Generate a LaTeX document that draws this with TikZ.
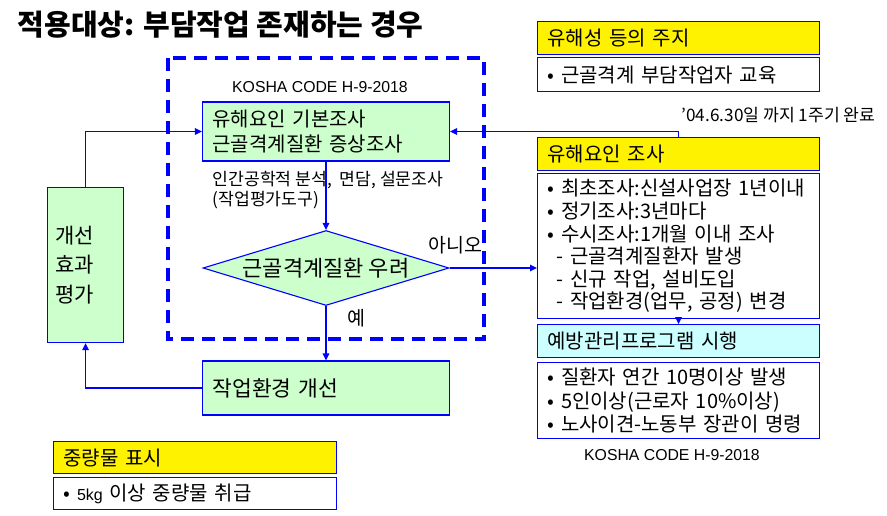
\documentclass[tikz,border=0pt]{standalone}
\usepackage{fontspec}
\setmainfont{Noto Sans CJK KR}
\newfontfamily\latfont{Liberation Sans}
\usetikzlibrary{arrows.meta,positioning,shapes.geometric}
\definecolor{lgreen}{HTML}{CCFFCC}
\definecolor{lcyan}{HTML}{CCFFFF}
\definecolor{lblue}{HTML}{0000FF}

\begin{document}
\begin{tikzpicture}[
  x=1pt, y=-1pt,
  box/.style={draw=lblue, line width=1.1pt, fill=lgreen, align=left,
              font=\fontsize{20}{25.5}\selectfont},
  hdr/.style={draw=lblue, line width=1.1pt, fill=yellow, anchor=north west,
              minimum height=33pt, text width=262pt, inner xsep=10pt, align=left,
              font=\fontsize{20}{22}\selectfont},
  lst/.style={draw=lblue, line width=1.1pt, fill=white, anchor=north west,
              text width=262pt, inner xsep=10pt, inner ysep=0pt, align=left,
              font=\fontsize{20}{22.6}\selectfont},
  lbl/.style={inner sep=0pt, align=left},
  >={Triangle[length=7pt,width=6.5pt]}, line width=1.3pt
]
  \useasboundingbox (0,0) rectangle (887,515);

  \node[lbl, anchor=west, font=\bfseries\fontsize{29}{32}\selectfont] (title) at (17,25)
      {적용대상: 부담작업 존재하는 경우};

  \draw[lblue, line width=3.2pt, dash pattern=on 13pt off 8pt] (168,58) rectangle (484,339);
  \node[lbl, font=\latfont\fontsize{15.8}{18}\selectfont] (kosha1) at (320,87) {KOSHA CODE H-9-2018};

  \node[box, minimum width=247pt, minimum height=59pt, text width=227pt, inner xsep=10pt]
      (basic) at (326,131.5) {유해요인 기본조사\\근골격계질환 증상조사};
  \node[lbl, anchor=west, font=\fontsize{17.2}{20}\selectfont] (methods) at (212,190)
      {인간공학적 분석,\ \ 면담, 설문조사\\(작업평가도구)};
  \node[box, diamond, aspect=3.28, inner sep=-6pt, minimum width=246pt, minimum height=75pt,
        font=\fontsize{22}{24}\selectfont] (risk) at (326,268) {근골격계질환 우려};
  \node[lbl, anchor=west, font=\fontsize{19.5}{22}\selectfont] (nolbl) at (428,245) {아니오};
  \node[lbl, anchor=west, font=\fontsize{19.5}{22}\selectfont] (yeslbl) at (347,318) {예};

  \node[box, minimum width=247pt, minimum height=54pt, text width=227pt, inner xsep=10pt,
        font=\fontsize{21.5}{24}\selectfont] (improve) at (326,388) {작업환경 개선};
  \node[box, anchor=north west, minimum width=76pt, minimum height=155pt, text width=60pt,
        inner xsep=8pt, font=\fontsize{21}{29.5}\selectfont] (evalbox) at (47,187)
      {개선\\효과\\평가};

  \node[hdr] (notice) at (537,21) {유해성 등의 주지};
  \node[lst, minimum height=34pt] (noticelist) at (537,57) {• 근골격계 부담작업자 교육};
  \node[lbl, anchor=west, font=\fontsize{17.2}{20}\selectfont] (datenote) at (681,115)
      {’04.6.30일 까지 1주기 완료};

  \node[hdr] (survey) at (537,137) {유해요인 조사};
  \node[lst, minimum height=145pt] (surveylist) at (537,173)
      {• 최초조사:신설사업장 1년이내\\
       • 정기조사:3년마다\\
       • 수시조사:1개월 이내 조사\\
       \hspace*{9pt}- 근골격계질환자 발생\\
       \hspace*{9pt}- 신규 작업, 설비도입\\
       \hspace*{9pt}- 작업환경(업무, 공정) 변경};

  \node[hdr, fill=lcyan] (prog) at (537,324) {예방관리프로그램 시행};
  \node[lst, minimum height=76pt, font=\fontsize{20}{23.5}\selectfont] (proglist) at (537,362)
      {• 질환자 연간 10명이상 발생\\
       • 5인이상(근로자 10\%이상)\\
       • 노사이견-노동부 장관이 명령};
  \node[lbl, font=\latfont\fontsize{15.8}{18}\selectfont] (kosha2) at (672,455) {KOSHA CODE H-9-2018};

  \node[hdr, minimum height=32pt, text width=263pt] (heavy) at (53,441) {중량물 표시};
  \node[lst, minimum height=32pt, text width=263pt] (heavylist) at (53,477)
      {• {\latfont\fontsize{16}{18}\selectfont 5kg} 이상 중량물 취급};

  \draw[->, lblue] (evalbox.north) |- (basic.west);
  \draw[->, lblue] (survey.north) |- (basic.east);
  \draw[->, lblue] (basic.south) -- (risk.north);
  \draw[->, lblue] (risk.east) -- (risk.east -| surveylist.west);
  \draw[->, lblue] (risk.south) -- (improve.north);
  \draw[->, lblue] (improve.west) -| (evalbox.south);
  \draw[->, lblue] (surveylist.south) -- (prog.north);
\end{tikzpicture}
\end{document}
